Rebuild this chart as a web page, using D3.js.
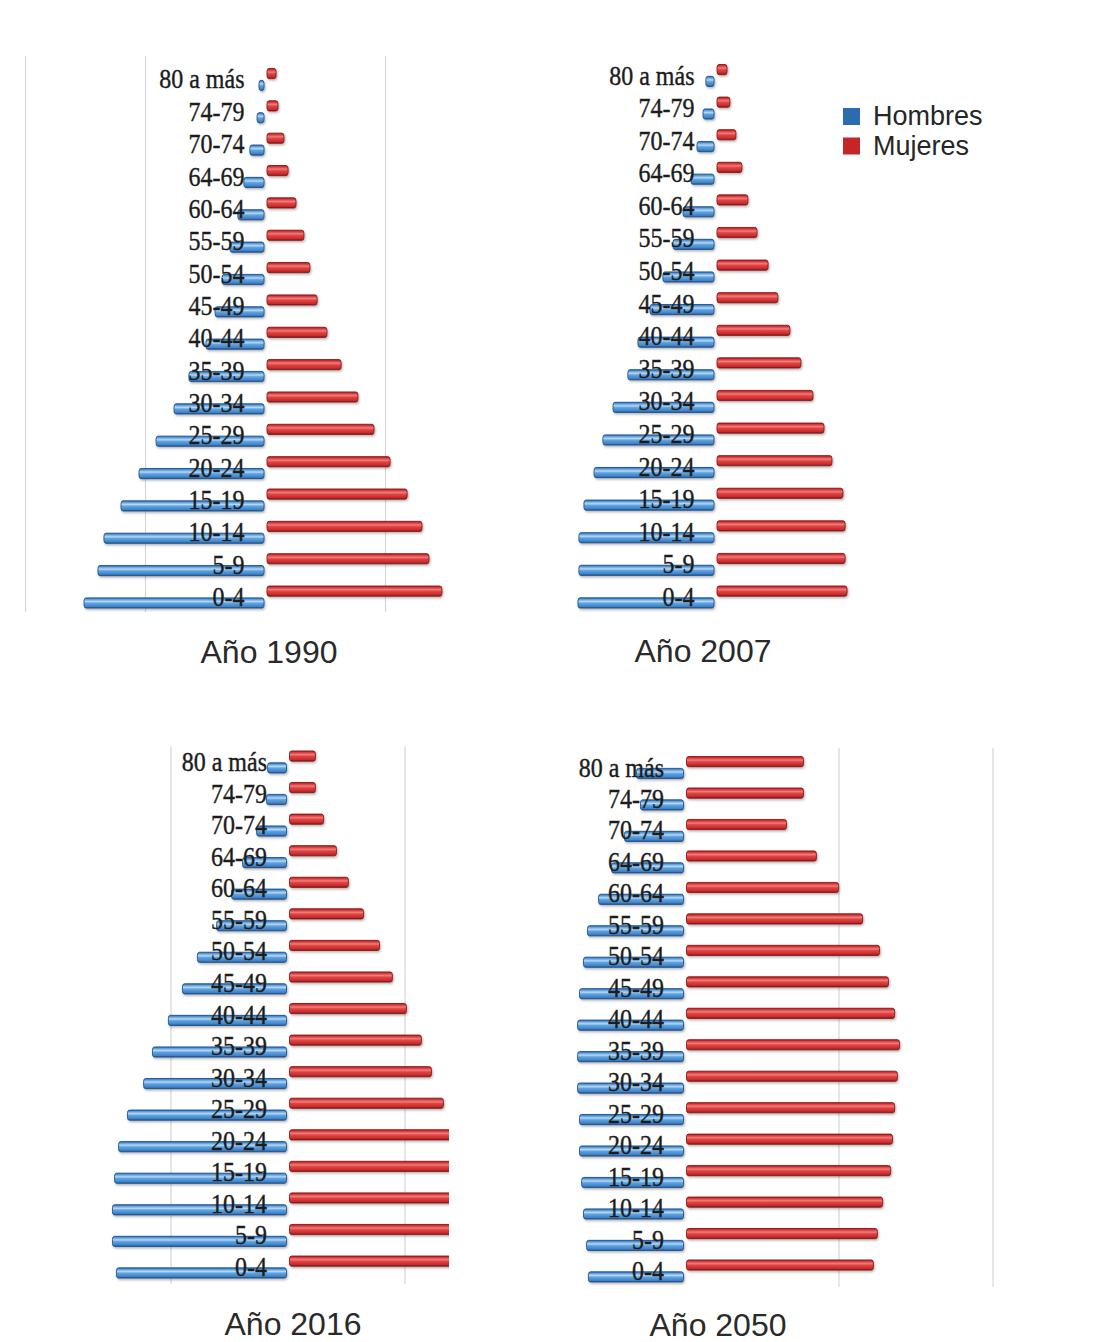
<!DOCTYPE html>
<html>
<head>
<meta charset="utf-8">
<script src="https://cdn.jsdelivr.net/npm/d3@7/dist/d3.min.js"></script>
<style>
  html, body { margin: 0; padding: 0; background: #ffffff; }
  svg { display: block; }
</style>
</head>
<body>
<svg id="chart" width="1094" height="1342"></svg>
<script>
// Age groups, from the oldest (top) to the youngest (bottom)
const ageGroups = ['80 a más','74-79','70-74','64-69','60-64','55-59','50-54','45-49','40-44',
                   '35-39','30-34','25-29','20-24','15-19','10-14','5-9','0-4'];

const seriesNames = ['Mujeres', 'Hombres'];
const years = ['1990', '2007', '2016', '2050'];

// Share of population per age group (%)
const hombres1990 = [0.25,0.33,0.63,0.88,1.13,1.46,1.79,2.08,2.46,3.17,3.79,4.54,5.25,6.00,6.71,6.96,7.54];
const mujeres1990 = [0.42,0.50,0.75,0.92,1.25,1.58,1.83,2.13,2.54,3.13,3.83,4.50,5.17,5.88,6.50,6.79,7.33];

const hombres2007 = [0.38,0.50,0.75,1.00,1.33,1.75,2.17,2.71,3.21,3.63,4.25,4.67,5.04,5.46,5.67,5.67,5.71];
const mujeres2007 = [0.46,0.58,0.83,1.08,1.33,1.71,2.17,2.58,3.08,3.54,4.04,4.50,4.83,5.29,5.38,5.38,5.46];

const hombres2016 = [0.85,0.90,1.32,1.92,2.39,3.03,3.85,4.49,5.09,5.77,6.15,6.84,7.22,7.39,7.48,7.48,7.31];
const mujeres2016 = [1.15,1.15,1.50,2.05,2.56,3.21,3.89,4.44,5.04,5.68,6.11,6.62,7.05,7.18,7.26,7.26,7.09];

const hombres2050 = [1.56,1.43,1.95,2.37,2.79,3.15,3.28,3.41,3.47,3.47,3.47,3.41,3.41,3.34,3.28,3.18,3.12];
const mujeres2050 = [3.83,3.83,3.28,4.25,4.97,5.75,6.30,6.59,6.79,6.95,6.88,6.79,6.72,6.66,6.40,6.23,6.10];

// Layout of each small pyramid
const panels = [
  { year: years[0], hombres: hombres1990, mujeres: mujeres1990,
    zero: 265.5, top: 63.3, bottom: 613.2, unitPx: 24, grid: [-10, -5, 5],
    gridTop: 56, gridBottom: 612, xMax: null, titleX: 269, titleY: 663 },
  { year: years[1], hombres: hombres2007, mujeres: mujeres2007,
    zero: 715.5, top: 59.2, bottom: 613.3, unitPx: 24, grid: [],
    gridTop: 56, gridBottom: 612, xMax: null, titleX: 703, titleY: 662 },
  { year: years[2], hombres: hombres2016, mujeres: mujeres2016,
    zero: 288, top: 746.2, bottom: 1282.8, unitPx: 23.4, grid: [-5, 5],
    gridTop: 746, gridBottom: 1284, xMax: 6.84, titleX: 293, titleY: 1335 },
  { year: years[3], hombres: hombres2050, mujeres: mujeres2050,
    zero: 685, top: 751.8, bottom: 1286.7, unitPx: 30.8, grid: [5, 10],
    gridTop: 748, gridBottom: 1287, xMax: null, titleX: 718, titleY: 1336 }
];

const colors = { Hombres: '#2d6bb0', Mujeres: '#c42527' };
const outline = { Hombres: '#1f5591', Mujeres: '#8a1a1a' };

const svg = d3.select('#chart');
const defs = svg.append('defs');

// Cylinder-like shading for the bars
function cylinder(id, stops) {
  const g = defs.append('linearGradient').attr('id', id)
    .attr('x1', 0).attr('y1', 0).attr('x2', 0).attr('y2', 1);
  stops.forEach(([o, c]) => g.append('stop').attr('offset', o).attr('stop-color', c));
}
cylinder('grad-Mujeres', [[0,'#a61c1e'],[0.15,'#d93c3c'],[0.36,'#ef7d7a'],[0.52,'#e04545'],[0.85,'#c62a2a'],[1,'#7d1212']]);
cylinder('grad-Hombres', [[0,'#2b64a5'],[0.15,'#5d9fdc'],[0.36,'#b5d8f4'],[0.52,'#62a3de'],[0.85,'#3f83c8'],[1,'#1c4f8b']]);

const shadow = defs.append('filter').attr('id', 'bar-shadow')
  .attr('x', '-5%').attr('y', '-40%').attr('width', '110%').attr('height', '200%');
shadow.append('feDropShadow').attr('dx', 1).attr('dy', 1.5).attr('stdDeviation', 0.9)
  .attr('flood-color', '#555').attr('flood-opacity', 0.45);

panels.forEach((p, i) => {
  const g = svg.append('g').attr('class', 'panel-' + p.year);

  const x = d3.scaleLinear().domain([0, 10]).range([0, 10 * p.unitPx]);
  const y = d3.scaleBand().domain(ageGroups).range([p.top, p.bottom]).padding(0);
  const ySub = d3.scaleBand().domain(seriesNames)
    .range([y.bandwidth() / 2 - 11.5, y.bandwidth() / 2 + 11.5]).paddingInner(0.06);

  // vertical gridlines
  g.selectAll('line.grid').data(p.grid).join('line').attr('class', 'grid')
    .attr('x1', d => p.zero + Math.sign(d) * x(Math.abs(d)))
    .attr('x2', d => p.zero + Math.sign(d) * x(Math.abs(d)))
    .attr('y1', p.gridTop).attr('y2', p.gridBottom)
    .attr('stroke', '#d6d6d6').attr('stroke-width', 1.2);

  // clip for a fixed axis maximum
  let barsParent = g;
  if (p.xMax !== null) {
    defs.append('clipPath').attr('id', 'clip-' + p.year)
      .append('rect').attr('x', 0).attr('y', 0)
      .attr('width', p.zero + 1 + x(p.xMax)).attr('height', 1342);
    barsParent = g.append('g').attr('clip-path', `url(#clip-${p.year})`);
  }

  const rows = ageGroups.map((a, k) => ({ age: a, Hombres: p.hombres[k], Mujeres: p.mujeres[k] }));

  const bars = barsParent.append('g').attr('filter', 'url(#bar-shadow)');

  // Hombres to the left of the axis
  bars.selectAll('rect.h').data(rows).join('rect').attr('class', 'h')
    .attr('x', d => p.zero - 1 - x(d.Hombres) + 0.5)
    .attr('width', d => Math.max(0, x(d.Hombres) - 1))
    .attr('y', d => y(d.age) + ySub('Hombres') + 0.5)
    .attr('height', ySub.bandwidth() - 1)
    .attr('rx', 2).attr('ry', 3)
    .attr('fill', 'url(#grad-Hombres)')
    .attr('stroke', outline.Hombres).attr('stroke-width', 0.9);

  // Mujeres to the right of the axis
  bars.selectAll('rect.m').data(rows).join('rect').attr('class', 'm')
    .attr('x', p.zero + 1.5)
    .attr('width', d => Math.max(0, x(d.Mujeres) - 1))
    .attr('y', d => y(d.age) + ySub('Mujeres') + 0.5)
    .attr('height', ySub.bandwidth() - 1)
    .attr('rx', 2).attr('ry', 3)
    .attr('fill', 'url(#grad-Mujeres)')
    .attr('stroke', outline.Mujeres).attr('stroke-width', 0.9);

  // age labels
  const axis = d3.axisLeft(y).tickSize(0).tickPadding(0);
  const ax = g.append('g').attr('transform', `translate(${p.zero - 21},0)`).call(axis);
  ax.select('.domain').remove();
  ax.attr('font-family', '"Liberation Serif", "Times New Roman", serif').attr('font-size', 24);
  ax.selectAll('text')
    .attr('x', 0).attr('dy', null).attr('y', 9 / 1.1)
    .attr('transform', 'scale(1,1.1)')
    .attr('fill', '#1c1c1c')
    .attr('stroke', '#1c1c1c').attr('stroke-width', 0.35);

  // panel title
  g.append('text').attr('x', p.titleX).attr('y', p.titleY)
    .attr('text-anchor', 'middle')
    .attr('font-family', '"Liberation Sans", Arial, sans-serif').attr('font-size', 32)
    .attr('fill', '#2a2a2a')
    .text('Año ' + p.year);
});

// legend
const legendItems = ['Hombres', 'Mujeres'];
const legend = svg.append('g').attr('transform', 'translate(843,108)');
legend.selectAll('rect').data(legendItems).join('rect')
  .attr('x', 0).attr('y', (d, i) => i * 29.5)
  .attr('width', 17).attr('height', 17)
  .attr('fill', d => colors[d]);
legend.selectAll('text').data(legendItems).join('text')
  .attr('x', 30).attr('y', (d, i) => i * 29.5 + 17)
  .attr('font-family', '"Liberation Sans", Arial, sans-serif').attr('font-size', 27)
  .attr('fill', '#262626')
  .text(d => d);
</script>
</body>
</html>
